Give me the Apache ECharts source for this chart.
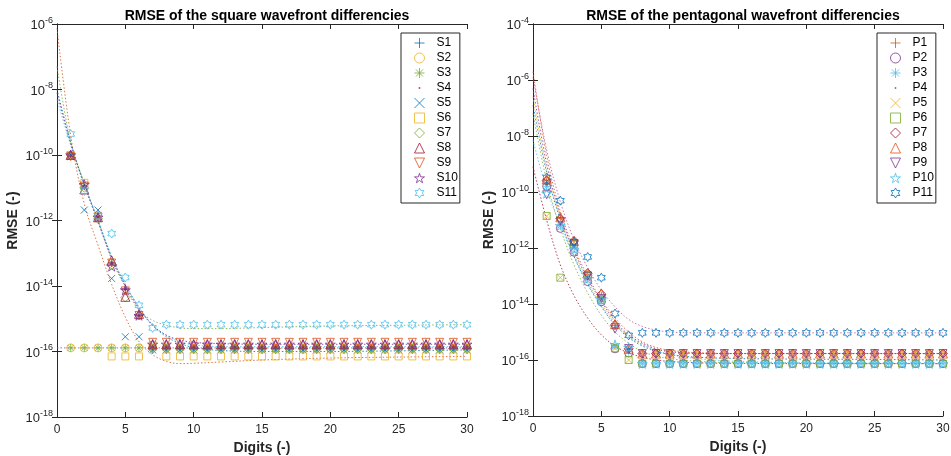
<!DOCTYPE html>
<html><head><meta charset="utf-8">
<script src="https://cdn.jsdelivr.net/npm/echarts@6/dist/echarts.min.js"></script>
<style>html,body{margin:0;padding:0;background:#fff}#c{width:951px;height:456px}</style>
</head><body><div id="c"></div>
<script>
// x values (digits)
const digits = [1,2,3,4,5,6,7,8,9,10,11,12,13,14,15,16,17,18,19,20,21,22,23,24,25,26,27,28,29,30];
const titleL = 'RMSE of the square wavefront differencies';
const titleR = 'RMSE of the pentagonal wavefront differencies';
const namesL = ['S1','S2','S3','S4','S5','S6','S7','S8','S9','S10','S11'];
const namesR = ['P1','P2','P3','P4','P5','P6','P7','P8','P9','P10','P11'];

// log10(RMSE) values
const S1 = [-10.0,-10.95,-11.9,-13.3,-14.1,-14.9,-15.95,-15.95,-15.95,-15.95,
  -15.95,-15.95,-15.95,-15.95,-15.95,-15.95,-15.95,-15.95,-15.95,-15.95,
  -15.95,-15.95,-15.95,-15.95,-15.95,-15.95,-15.95,-15.95,-15.95,-15.95];
const S2 = [-15.89,-15.89,-15.89,-15.89,-15.89,-15.89,-15.89,-15.89,-15.89,-15.89,
  -15.89,-15.89,-15.89,-15.89,-15.89,-15.89,-15.89,-15.89,-15.89,-15.89,
  -15.89,-15.89,-15.89,-15.89,-15.89,-15.89,-15.89,-15.89,-15.89,-15.89];
const S3 = [-15.89,-15.89,-15.89,-15.89,-15.89,-15.89,-15.89,-15.89,-15.89,-15.89,
  -15.89,-15.89,-15.89,-15.89,-15.89,-15.89,-15.89,-15.89,-15.89,-15.89,
  -15.89,-15.89,-15.89,-15.89,-15.89,-15.89,-15.89,-15.89,-15.89,-15.89];
const S4 = [-10.02,-10.95,-11.9,-13.3,-14.1,-14.9,-15.85,-15.85,-15.85,-15.85,
  -15.85,-15.85,-15.85,-15.85,-15.85,-15.85,-15.85,-15.85,-15.85,-15.85,
  -15.85,-15.85,-15.85,-15.85,-15.85,-15.85,-15.85,-15.85,-15.85,-15.85];
const S5 = [-10.0,-11.68,-11.68,-13.77,-15.55,-15.55,-15.95,-15.95,-15.95,-15.95,
  -15.95,-15.95,-15.95,-15.95,-15.95,-15.95,-15.95,-15.95,-15.95,-15.95,
  -15.95,-15.95,-15.95,-15.95,-15.95,-15.95,-15.95,-15.95,-15.95,-15.95];
const S6 = [-10.0,-10.85,-11.85,-16.15,-16.15,-16.15,-15.8,-16.15,-16.15,-16.15,
  -16.15,-16.15,-16.15,-16.15,-16.15,-16.15,-16.15,-16.15,-16.15,-16.15,
  -16.15,-16.15,-16.15,-16.15,-16.15,-16.15,-16.15,-16.15,-16.15,-16.15];
const S7 = [-10.0,-11.0,-11.95,-13.35,-14.35,-14.9,-15.92,-15.92,-15.92,-15.92,
  -15.92,-15.92,-15.92,-15.92,-15.92,-15.92,-15.92,-15.92,-15.92,-15.92,
  -15.92,-15.92,-15.92,-15.92,-15.92,-15.92,-15.92,-15.92,-15.92,-15.92];
const S8 = [-10.0,-11.05,-11.9,-13.22,-14.33,-14.85,-15.78,-15.78,-15.78,-15.78,
  -15.78,-15.78,-15.78,-15.78,-15.78,-15.78,-15.78,-15.78,-15.78,-15.78,
  -15.78,-15.78,-15.78,-15.78,-15.78,-15.78,-15.78,-15.78,-15.78,-15.78];
const S9 = [-10.05,-10.95,-11.9,-13.3,-14.15,-14.9,-15.72,-15.72,-15.72,-15.72,
  -15.72,-15.72,-15.72,-15.72,-15.72,-15.72,-15.72,-15.72,-15.72,-15.72,
  -15.72,-15.72,-15.72,-15.72,-15.72,-15.72,-15.72,-15.72,-15.72,-15.72];
const S10 = [-10.0,-10.9,-11.9,-13.4,-14.12,-14.9,-15.78,-15.78,-15.78,-15.78,
  -15.78,-15.78,-15.78,-15.78,-15.78,-15.78,-15.78,-15.78,-15.78,-15.78,
  -15.78,-15.78,-15.78,-15.78,-15.78,-15.78,-15.78,-15.78,-15.78,-15.78];
const S11 = [-9.36,-11.1,-11.85,-12.4,-13.74,-14.59,-15.28,-15.18,-15.18,-15.18,
  -15.18,-15.18,-15.18,-15.18,-15.18,-15.18,-15.18,-15.18,-15.18,-15.18,
  -15.18,-15.18,-15.18,-15.18,-15.18,-15.18,-15.18,-15.18,-15.18,-15.18];

// log10(RMSE) values
const P1 = [-9.6,-10.95,-11.75,-12.95,-13.7,-14.7,-15.6,-15.77,-15.77,-15.77,
  -15.77,-15.77,-15.77,-15.77,-15.77,-15.77,-15.77,-15.77,-15.77,-15.77,
  -15.77,-15.77,-15.77,-15.77,-15.77,-15.77,-15.77,-15.77,-15.77,-15.77];
const P2 = [-9.8,-11.3,-12.15,-13.2,-13.92,-15.6,-15.75,-16.13,-16.13,-16.13,
  -16.13,-16.13,-16.13,-16.13,-16.13,-16.13,-16.13,-16.13,-16.13,-16.13,
  -16.13,-16.13,-16.13,-16.13,-16.13,-16.13,-16.13,-16.13,-16.13,-16.13];
const P3 = [-9.8,-11.2,-12.0,-13.1,-13.85,-15.5,-15.7,-16.13,-16.13,-16.13,
  -16.13,-16.13,-16.13,-16.13,-16.13,-16.13,-16.13,-16.13,-16.13,-16.13,
  -16.13,-16.13,-16.13,-16.13,-16.13,-16.13,-16.13,-16.13,-16.13,-16.13];
const P4 = [-9.7,-11.1,-11.9,-13.0,-13.8,-14.85,-15.6,-16.0,-16.0,-16.0,
  -16.0,-16.0,-16.0,-16.0,-16.0,-16.0,-16.0,-16.0,-16.0,-16.0,
  -16.0,-16.0,-16.0,-16.0,-16.0,-16.0,-16.0,-16.0,-16.0,-16.0];
const P5 = [-10.86,-13.06,-11.8,-12.95,-13.8,-15.58,-16.0,-15.77,-15.77,-15.77,
  -15.77,-15.77,-15.77,-15.77,-15.77,-15.77,-15.77,-15.77,-15.77,-15.77,
  -15.77,-15.77,-15.77,-15.77,-15.77,-15.77,-15.77,-15.77,-15.77,-15.77];
const P6 = [-10.86,-13.06,-11.85,-13.0,-13.85,-15.58,-16.0,-16.13,-16.13,-16.13,
  -16.13,-16.13,-16.13,-16.13,-16.13,-16.13,-16.13,-16.13,-16.13,-16.13,
  -16.13,-16.13,-16.13,-16.13,-16.13,-16.13,-16.13,-16.13,-16.13,-16.13];
const P7 = [-9.6,-10.95,-11.75,-12.9,-13.65,-14.75,-15.6,-15.77,-15.77,-15.77,
  -15.77,-15.77,-15.77,-15.77,-15.77,-15.77,-15.77,-15.77,-15.77,-15.77,
  -15.77,-15.77,-15.77,-15.77,-15.77,-15.77,-15.77,-15.77,-15.77,-15.77];
const P8 = [-9.55,-10.9,-11.75,-12.9,-13.62,-14.72,-15.6,-15.77,-15.77,-15.77,
  -15.77,-15.77,-15.77,-15.77,-15.77,-15.77,-15.77,-15.77,-15.77,-15.77,
  -15.77,-15.77,-15.77,-15.77,-15.77,-15.77,-15.77,-15.77,-15.77,-15.77];
const P9 = [-10.1,-11.05,-11.85,-13.0,-13.8,-14.9,-15.59,-15.77,-15.77,-15.77,
  -15.77,-15.77,-15.77,-15.77,-15.77,-15.77,-15.77,-15.77,-15.77,-15.77,
  -15.77,-15.77,-15.77,-15.77,-15.77,-15.77,-15.77,-15.77,-15.77,-15.77];
const P10 = [-10.05,-11.2,-12.05,-13.1,-13.85,-15.45,-15.55,-16.13,-16.13,-16.13,
  -16.13,-16.13,-16.13,-16.13,-16.13,-16.13,-16.13,-16.13,-16.13,-16.13,
  -16.13,-16.13,-16.13,-16.13,-16.13,-16.13,-16.13,-16.13,-16.13,-16.13];
const P11 = [-9.48,-10.31,-11.78,-12.32,-13.06,-14.34,-15.12,-15.03,-15.03,-15.03,
  -15.03,-15.03,-15.03,-15.03,-15.03,-15.03,-15.03,-15.03,-15.03,-15.03,
  -15.03,-15.03,-15.03,-15.03,-15.03,-15.03,-15.03,-15.03,-15.03,-15.03];

// dotted fit curves, log10 values read at these digits
const fitX = [0,1,2,3,4,5,6,7,8,9,10,12,15,20,25,30];
const fitL1 = [-6.13,-9.4,-11.5,-12.75,-13.95,-14.95,-15.7,-16.1,-16.3,-16.37,-16.36,-16.32,-16.26,-16.2,-16.17,-16.15];
const fitL2 = [-7.3,-9.6,-10.87,-11.99,-13.2,-14.03,-14.74,-15.05,-15.2,-15.28,-15.3,-15.3,-15.27,-15.22,-15.2,-15.18];
const fitL3 = [-8.0,-9.6,-10.9,-12.0,-13.1,-13.95,-14.65,-15.2,-15.55,-15.75,-15.88,-15.97,-16.0,-16.0,-15.98,-15.95];
const fitL4 = [-8.3,-9.7,-10.95,-12.0,-13.1,-13.95,-14.65,-15.2,-15.5,-15.7,-15.8,-15.85,-15.85,-15.85,-15.85,-15.85];
const fitL5 = [-8.1,-9.65,-10.9,-12.05,-13.15,-14.0,-14.7,-15.2,-15.5,-15.65,-15.72,-15.76,-15.78,-15.78,-15.78,-15.78];
const fitL6 = [-15.89,-15.89,-15.89,-15.89,-15.89,-15.89,-15.89,-15.89,-15.89,-15.89,-15.89,-15.89,-15.89,-15.89,-15.89,-15.89];
const fitR1 = [-5.9,-8.5,-10.35,-11.7,-12.7,-13.5,-14.1,-14.55,-14.8,-14.93,-15.0,-15.03,-15.03,-15.03,-15.03,-15.03];
const fitR2 = [-5.7,-8.7,-10.7,-12.0,-13.0,-13.85,-14.5,-15.0,-15.35,-15.55,-15.65,-15.74,-15.77,-15.77,-15.77,-15.77];
const fitR3 = [-6.6,-9.2,-10.9,-12.2,-13.2,-14.0,-14.65,-15.15,-15.45,-15.62,-15.7,-15.76,-15.77,-15.77,-15.77,-15.77];
const fitR4 = [-6.3,-9.0,-10.85,-12.1,-13.1,-13.9,-14.6,-15.1,-15.4,-15.6,-15.7,-15.76,-15.77,-15.77,-15.77,-15.77];
const fitR5 = [-8.15,-9.9,-11.2,-12.3,-13.25,-14.05,-14.7,-15.15,-15.45,-15.65,-15.8,-15.95,-16.05,-16.1,-16.12,-16.13];
const fitR6 = [-9.1,-11.0,-12.6,-13.7,-14.5,-15.1,-15.5,-15.75,-15.9,-16.0,-16.05,-16.1,-16.12,-16.13,-16.13,-16.13];
const fitR7 = [-7.2,-9.6,-11.3,-12.6,-13.6,-14.4,-15.0,-15.4,-15.7,-15.85,-15.95,-16.05,-16.1,-16.12,-16.13,-16.13];
const fitR8 = [-6.9,-9.3,-11.0,-12.3,-13.3,-14.1,-14.75,-15.2,-15.5,-15.68,-15.8,-15.9,-15.95,-15.97,-15.98,-16.0];

const C = {blue:'#0072BD', red:'#D95319', yellow:'#EDB120', purple:'#7E2F8E', green:'#77AC30', cyan:'#4DBEEE', dred:'#A2142F'};
const SYM = {
  plus: 'path://M5,0L5,10M0,5L10,5',
  circle: 'circle',
  star6: 'path://M5,0L5,10M0,5L10,5M1.5,1.5L8.5,8.5M8.5,1.5L1.5,8.5',
  dot: 'circle',
  cross: 'path://M0,0L10,10M10,0L0,10',
  square: 'rect',
  diamond: 'diamond',
  tri: 'triangle',
  invtri: 'path://M0,0L10,0L5,10Z',
  penta: 'path://M5,0L6.123,3.455L9.755,3.455L6.816,5.59L7.939,9.045L5,6.91L2.061,9.045L3.184,5.59L0.245,3.455L3.877,3.455Z',
  hexa: 'path://M5,0L6.443,2.5L9.33,2.5L7.887,5L9.33,7.5L6.443,7.5L5,10L3.557,7.5L0.67,7.5L2.113,5L0.67,2.5L3.557,2.5Z'
};
const LEGEND_ICON = Object.assign({}, SYM, {
  circle: 'path://M1,5A4,4 0 1 1 9,5A4,4 0 1 1 1,5Z',
  square: 'path://M1.5,1.5L8.5,1.5L8.5,8.5L1.5,8.5Z',
  dot: 'path://M0,0L0.01,0M10,10L10.01,10M4.1,5A0.9,0.9 0 1 1 5.9,5A0.9,0.9 0 1 1 4.1,5Z',
  cross: 'path://M1,1L9,9M9,1L1,9',
  star6: 'path://M5,0.5L5,9.5M0.5,5L9.5,5M1.8,1.8L8.2,8.2M8.2,1.8L1.8,8.2'
});
const SIZE = {plus:8, circle:8, star6:8, dot:3, cross:7, square:7, diamond:9, tri:9, invtri:8, penta:10, hexa:9};
const markerOrder = ['plus','circle','star6','dot','cross','square','diamond','tri','invtri','penta','hexa'];
const colorsL = [C.blue, C.yellow, C.green, C.dred, C.blue, C.yellow, C.green, C.dred, C.red, C.purple, C.cyan];
const colorsR = [C.red, C.purple, C.cyan, C.blue, C.yellow, C.green, C.dred, C.red, C.purple, C.cyan, C.blue];
const dataL = [S1,S2,S3,S4,S5,S6,S7,S8,S9,S10,S11];
const dataR = [P1,P2,P3,P4,P5,P6,P7,P8,P9,P10,P11];
const fitsL = [[fitL1,C.red],[fitL2,C.green],[fitL3,C.blue],[fitL4,C.cyan],[fitL5,C.purple],[fitL6,'#6a5acd']];
const fitsR = [[fitR1,'#b05a9a'],[fitR2,C.red],[fitR3,C.yellow],[fitR4,C.purple],[fitR5,C.cyan],[fitR6,C.dred],[fitR7,C.green],[fitR8,C.blue]];

const AX = '#262626';
const FONT = 'Liberation Sans';
const series = [];
function addFits(fits, idx){
  fits.forEach(([arr,col])=>{
    series.push({type:'line', xAxisIndex:idx*2, yAxisIndex:idx*2, silent:true, showSymbol:false, smooth:0.35,
      data: fitX.map((x,i)=>[x, Math.pow(10, arr[i])]),
      lineStyle:{color:col, width:1, type:[1.5,2], opacity:0.8}, z:1});
  });
}
function addScatter(names, data, colors, idx){
  names.forEach((n,k)=>{
    const m = markerOrder[k], col = colors[k];
    const filled = m==='dot';
    series.push({type:'scatter', name:n, xAxisIndex:idx*2, yAxisIndex:idx*2,
      symbol: SYM[m], symbolSize: SIZE[m], symbolKeepAspect:true,
      data: digits.map((d,i)=>[d, Math.pow(10, data[k][i])]),
      itemStyle:{color: filled? col : 'rgba(255,255,255,0)', borderColor:col, borderWidth: filled?0:1},
      z: 2+k});
  });
}
addFits(fitsL,0); addFits(fitsR,1);
addScatter(namesL, dataL, colorsL, 0); addScatter(namesR, dataR, colorsR, 1);

function legendData(names, colors){
  return names.map((n,k)=>{
    const m = markerOrder[k], col = colors[k], filled = m==='dot';
    return {name:n, icon: LEGEND_ICON[m],
      itemStyle:{color: filled? col : 'rgba(255,255,255,0)', borderColor: filled? 'rgba(0,0,0,0)' : col, borderWidth: filled?0:1}};
  });
}

const rich = {b:{fontSize:13, color:AX, fontFamily:FONT, verticalAlign:'bottom', lineHeight:16},
              s:{fontSize:9, color:AX, fontFamily:FONT, verticalAlign:'top', lineHeight:16}};
function xAxes(g){
  return [
    {type:'value', gridIndex:g, min:0, max:30, interval:5, position:'bottom',
     name:'Digits (-)', nameLocation:'middle', nameGap:23,
     nameTextStyle:{fontSize:14, fontWeight:'bold', color:AX, fontFamily:FONT},
     axisLine:{lineStyle:{color:AX}}, axisTick:{inside:true, length:5, lineStyle:{color:AX}},
     axisLabel:{fontSize:12, color:AX, margin:7, fontFamily:FONT}, splitLine:{show:false}},
    {type:'value', gridIndex:g, min:0, max:30, interval:5, position:'top',
     axisLine:{lineStyle:{color:AX}}, axisTick:{inside:true, length:5, lineStyle:{color:AX}},
     axisLabel:{show:false}, splitLine:{show:false}}
  ];
}
function yAxes(g, maxv){
  return [
    {type:'log', gridIndex:g, min:1e-18, max:maxv, interval:2, logBase:10, position:'left',
     name:'RMSE (-)', nameLocation:'middle', nameGap:37,
     nameTextStyle:{fontSize:14, fontWeight:'bold', color:AX, fontFamily:FONT},
     axisLine:{show:true, lineStyle:{color:AX}}, axisTick:{show:true, inside:true, length:5, lineStyle:{color:AX}},
     minorTick:{show:false}, splitLine:{show:false},
     axisLabel:{margin:4, formatter:v=>'{b|10}{s|'+Math.round(Math.log10(v))+'}', rich:rich}},
    {type:'log', gridIndex:g, min:1e-18, max:maxv, interval:2, logBase:10, position:'right',
     axisLine:{show:true, lineStyle:{color:AX}}, axisTick:{show:true, inside:true, length:5, lineStyle:{color:AX}},
     axisLabel:{show:false}, splitLine:{show:false}}
  ];
}
const legendBase = {orient:'vertical', itemWidth:10, itemHeight:10, itemGap:3, borderColor:AX, borderWidth:1,
  backgroundColor:'#fff', padding:[4,2,4,13], textStyle:{fontSize:12, color:'#000', fontFamily:FONT, padding:[0,0,0,7]},
  selectedMode:false};
const option = {
  backgroundColor:'#fff', animation:false,
  title:[
    {text:titleL, left:262, top:4, textAlign:'center', textStyle:{fontSize:14, fontWeight:'bold', color:'#000', fontFamily:FONT}},
    {text:titleR, left:738, top:4, textAlign:'center', textStyle:{fontSize:14, fontWeight:'bold', color:'#000', fontFamily:FONT}}
  ],
  grid:[{left:57, top:24, width:410, height:393, containLabel:false, outerBoundsMode:'none'},
        {left:533, top:24, width:410, height:392, containLabel:false, outerBoundsMode:'none'}],
  xAxis: xAxes(0).concat(xAxes(1)), yAxis: yAxes(0,1e-6).concat(yAxes(1,1e-4)),
  legend:[Object.assign({data:legendData(namesL,colorsL), left:401, top:33}, legendBase),
          Object.assign({data:legendData(namesR,colorsR), left:877, top:33}, legendBase)],
  series: series
};
const chart = echarts.init(document.getElementById('c'));
chart.setOption(option);
</script></body></html>
